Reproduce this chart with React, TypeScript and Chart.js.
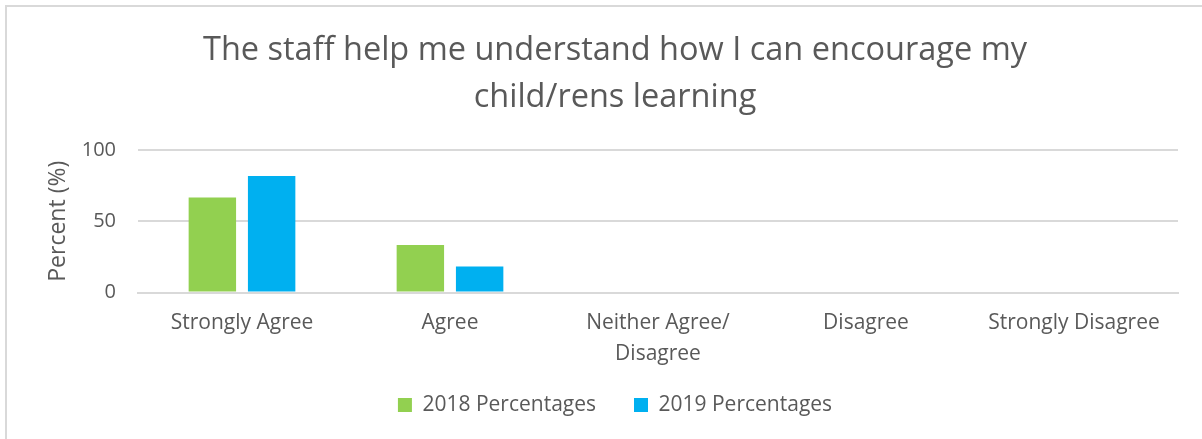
import React, { useEffect, useRef } from "react";
import { Chart, registerables } from "chart.js";

Chart.register(...registerables);

const categories: (string | string[])[] = [
  "Strongly Agree",
  "Agree",
  ["Neither Agree/", "Disagree"],
  "Disagree",
  "Strongly Disagree",
];
const series2018 = [66.7, 33.3, 0, 0, 0];
const series2019 = [81.8, 18.2, 0, 0, 0];
const yTicks = [0, 50, 100];
const titleLines = [
  "The staff help me understand how I can encourage my",
  "child/rens learning",
];

const TEXT = "#595959";
const GRID = "#d9d9d9";
const FONT = "'Open Sans', 'Noto Sans', sans-serif";

export default function App() {
  const ref = useRef<HTMLCanvasElement | null>(null);

  useEffect(() => {
    if (!ref.current) return;
    const chart = new Chart(ref.current, {
      type: "bar",
      data: {
        labels: categories,
        datasets: [
          {
            label: "2018 Percentages",
            data: series2018,
            backgroundColor: "#92d050",
            categoryPercentage: 0.57,
            barPercentage: 0.8,
          },
          {
            label: "2019 Percentages",
            data: series2019,
            backgroundColor: "#00b0f0",
            categoryPercentage: 0.57,
            barPercentage: 0.8,
          },
        ],
      },
      options: {
        responsive: false,
        animation: false,
        layout: { padding: { left: 52, right: 24, top: 0, bottom: 13.5 } },
        plugins: {
          tooltip: { enabled: false },
          title: {
            display: true,
            text: titleLines,
            color: TEXT,
            font: { family: FONT, size: 32.5, weight: "normal", lineHeight: 1.446 },
            padding: { top: 27, bottom: 29 },
          },
          legend: {
            position: "bottom",
            labels: {
              color: TEXT,
              font: { family: FONT, size: 21 },
              boxWidth: 14,
              boxHeight: 14,
              padding: 38,
            },
          },
        },
        scales: {
          x: {
            grid: { display: false, drawTicks: false },
            border: { display: true, color: GRID, width: 2 },
            ticks: {
              color: TEXT,
              font: { family: FONT, size: 21, lineHeight: 1.43 },
              padding: 16,
              maxRotation: 0,
              autoSkip: false,
            },
            afterFit: (s: any) => {
              s.height = 64;
              s._computeLabelArea = () => undefined;
            },
          },
          y: {
            min: 0,
            max: 100,
            afterBuildTicks: (s: any) => {
              s.ticks = yTicks.map((v) => ({ value: v }));
            },
            grid: { color: GRID, lineWidth: 2, drawTicks: false },
            border: { display: false },
            ticks: {
              color: TEXT,
              font: { family: FONT, size: 20 },
              padding: 22,
            },
            title: {
              display: true,
              text: "Percent (%)",
              color: TEXT,
              font: { family: FONT, size: 23, lineHeight: 0.52 },
              padding: { top: 0, bottom: 0 },
            },
            afterFit: (s: any) => {
              s.width = 86;
            },
          },
        },
      },
    });
    return () => chart.destroy();
  }, []);

  return (
    <div
      style={{
        position: "absolute",
        left: 0,
        top: 0,
        width: 1202,
        height: 439,
        overflow: "hidden",
        background: "#fff",
      }}
    >
      <div
        style={{
          position: "absolute",
          left: 5,
          top: 5,
          width: 1300,
          height: 600,
          borderLeft: `2px solid ${GRID}`,
          borderTop: `2px solid ${GRID}`,
        }}
      />
      <canvas
        ref={ref}
        width={1202}
        height={439}
        style={{ position: "absolute", left: 0, top: 0, width: 1202, height: 439 }}
      />
    </div>
  );
}
